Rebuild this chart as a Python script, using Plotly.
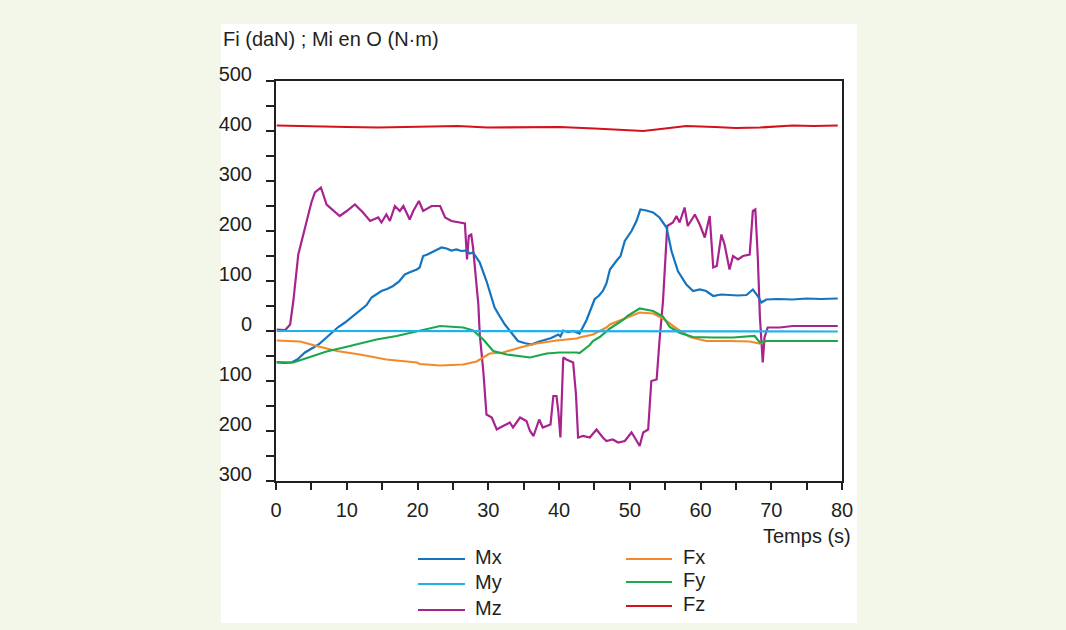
import plotly.graph_objects as go

# ---------------- data ----------------
series_names = ["Mx", "My", "Mz", "Fx", "Fy", "Fz"]
series_colors = ["#1474bf", "#1fb1ea", "#a9238f", "#f28a2a", "#1ba84c", "#d3121c"]

mx_t = [0.1, 1.2, 2.2, 3.0, 4.1, 5.0, 6.0, 6.9, 7.85, 8.8, 9.75, 10.9, 12.1, 12.8, 13.5, 14.2, 14.9,
        15.7, 16.55, 17.4, 18.2, 19.0, 19.9, 20.3, 20.8, 21.4, 22.0, 22.7, 23.4, 24.1,
        24.8, 25.5, 26.2, 26.9, 27.4, 27.85, 28.8, 29.75, 30.9, 31.6, 32.35, 33.3, 34.2, 35.1,
        36.1, 37.0, 38.0, 38.9, 39.9, 40.2, 40.6, 41.3, 42.0,
        42.9, 43.9, 45.05, 45.6, 46.2, 46.7, 47.2, 48.1, 48.7, 49.3, 50.25, 50.95, 51.5, 52.35,
        53.3, 54.2, 55.2, 55.9, 56.8, 58.0, 58.95, 59.9, 60.8, 61.8, 62.9, 64.1, 65.3, 66.5,
        67.4, 68.1, 68.6, 69.3, 71.0, 73.0, 75.0, 77.0, 79.4]
mx_v = [-63, -64, -63, -57, -43, -36, -27, -16, -3, 8, 17, 30, 43, 52, 67, 73, 80,
        84, 90, 99, 113, 118, 123, 127, 150, 153, 157, 162, 167, 165,
        161, 163, 160, 161, 155, 157, 137, 100, 47, 30, 13, -4, -20, -24,
        -27, -22, -17, -14, -7, -11, 1, -2, 0,
        -5, 22, 64, 70, 80, 95, 123, 140, 150, 180, 200, 220, 243, 241,
        237, 227, 207, 160, 120, 93, 80, 83, 80, 70, 73, 72, 71, 72,
        83, 70, 57, 63, 64, 63, 65, 64, 65]

my_t = [0.1, 20.0, 40.0, 60.0, 79.4]
my_v = [0, 0, -1, -1, -1]

mz_t = [0.1, 1.3, 2.0, 2.45, 3.15, 4.3, 5.0, 5.5, 6.35, 7.15, 7.9, 9.0, 10.0, 11.15, 12.3, 13.3,
        14.45, 14.9, 15.6, 16.1, 16.8, 17.5, 18.0, 18.9, 19.4, 20.2, 20.8, 22.0, 23.2, 23.9,
        24.8, 26.7, 27.0, 27.25, 27.6, 27.85, 28.6, 28.8, 29.3, 29.75, 30.5, 31.2, 32.1, 33.05,
        33.5, 34.5, 35.4, 35.9, 36.4, 37.2, 37.7, 38.8, 39.2, 39.65, 39.9, 40.2, 40.6, 41.05,
        42.0, 42.4, 42.7, 43.4, 44.35, 45.3, 46.2, 46.7, 47.6, 48.35, 49.3, 50.25, 50.7, 51.4,
        51.9, 52.6, 53.05, 53.8, 54.2, 54.7, 55.3, 56.1, 56.6, 57.05, 57.75, 58.2, 59.2, 59.9,
        60.6, 61.3, 61.8, 62.3, 62.95, 63.4, 64.1, 64.6, 65.3, 66.0, 66.95, 67.4, 67.75, 68.1,
        68.4, 68.8, 69.05, 69.5, 71.2, 73.05, 75.9, 79.4]
mz_v = [3, 2, 13, 60, 153, 217, 257, 277, 287, 253, 244, 230, 240, 253, 237, 220,
        227, 217, 233, 220, 250, 240, 250, 223, 240, 260, 240, 250, 250, 227,
        220, 215, 143, 190, 193, 167, 53, -7, -80, -167, -173, -197, -190, -183,
        -193, -173, -180, -200, -210, -177, -193, -187, -130, -130, -160, -213, -53, -57,
        -63, -127, -213, -210, -213, -197, -213, -220, -217, -223, -220, -203, -213, -230,
        -203, -197, -100, -97, -20, 60, 210, 217, 230, 217, 247, 210, 233, 213,
        187, 230, 127, 130, 193, 173, 123, 150, 143, 150, 153, 240, 243, 147,
        27, -63, -13, 7, 7, 10, 10, 10]

fx_t = [0.1, 3.4, 5.75, 8.6, 11.85, 15.6, 19.9, 20.3, 23.2, 26.45, 28.35, 29.75, 30.2, 32.1, 34.5,
        36.8, 39.65, 42.5, 42.9, 44.8, 46.7, 47.2, 49.15, 49.65, 51.4, 53.3, 54.7, 56.6, 58.5,
        60.8, 64.1, 66.95, 68.4, 69.3, 79.4]
fx_v = [-19, -21, -30, -40, -47, -57, -63, -66, -69, -67, -61, -50, -45, -43, -33,
        -25, -19, -15, -13, -7, 7, 13, 23, 27, 37, 35, 25, 5, -12,
        -20, -20, -21, -25, -20, -20]

fy_t = [0.1, 2.45, 4.8, 7.15, 10.45, 14.2, 17.05, 19.9, 23.2, 26.45, 27.85, 29.3, 30.7, 32.6,
        35.9, 38.25, 40.1, 42.5, 42.9, 44.35, 44.8, 45.75, 47.2, 49.15, 49.65, 51.4, 53.3, 54.7,
        55.65, 57.1, 58.95, 61.8, 64.6, 67.65, 68.4, 69.3, 79.4]
fy_v = [-62, -63, -52, -41, -30, -17, -10, -1, 10, 7, 1, -17, -40, -47,
        -53, -45, -43, -43, -44, -28, -20, -12, 5, 23, 30, 45, 40, 29,
        8, -4, -12, -13, -13, -10, -23, -20, -20]

fz_t = [0.1, 5.0, 10.0, 14.4, 20.0, 25.7, 29.9, 35.0, 40.1, 45.0, 48.5, 51.9, 55.0, 58.0,
        62.0, 65.0, 68.4, 71.0, 73.05, 76.0, 79.4]
fz_v = [411, 409, 408, 407, 408, 410, 407, 407, 408, 405, 403, 400, 405, 410,
        408, 406, 407, 409, 411, 410, 411]

y_tick_vals = [-300, -200, -100, 0, 100, 200, 300, 400, 500]
y_tick_text = ["300", "200", "100", "0", "100", "200", "300", "400", "500"]
x_tick_vals = [0, 10, 20, 30, 40, 50, 60, 70, 80]

y_title = "Fi (daN) ; Mi en O (N·m)"
x_title = "Temps (s)"

# ---------------- figure ----------------
FONT = "Liberation Sans, Arial, Helvetica, sans-serif"
FS = 20
TXT = "#231f20"
W, H = 1066, 630
L, R, T, B = 276, 224, 81, 149
PW, PH = W - L - R, H - T - B


def px_x(p):
    return (p - L) / PW


def px_y(p):
    return (H - B - p) / PH


data_t = [mx_t, my_t, mz_t, fx_t, fy_t, fz_t]
data_v = [mx_v, my_v, mz_v, fx_v, fy_v, fz_v]
draw_order = [5, 2, 0, 3, 4, 1]

fig = go.Figure()
for i in draw_order:
    fig.add_trace(go.Scatter(x=data_t[i], y=data_v[i], mode="lines", name=series_names[i],
                             line=dict(color=series_colors[i], width=2.2), showlegend=False))

shapes = [dict(type="rect", xref="paper", yref="paper",
               x0=px_x(221), x1=px_x(857), y0=px_y(623), y1=px_y(24),
               fillcolor="white", line=dict(width=0), layer="below")]
annotations = [
    dict(text=y_title, xref="paper", yref="paper", x=px_x(221), y=px_y(39),
         xanchor="left", yanchor="middle", showarrow=False,
         font=dict(family=FONT, size=FS, color=TXT)),
    dict(text=x_title, xref="paper", yref="paper", x=px_x(853), y=px_y(536),
         xanchor="right", yanchor="middle", showarrow=False,
         font=dict(family=FONT, size=FS, color=TXT)),
]

# manual legend (two columns of three)
leg_cols = [(418, 465, 473), (626, 672, 681)]
leg_rows = [559, 584, 610]
for k, i in enumerate([0, 1, 2, 3, 4, 5]):
    col = k // 3
    row = k % 3
    x0, x1, xt = leg_cols[col]
    yy = leg_rows[row] - (2 * row if col == 1 else 0)
    shapes.append(dict(type="line", xref="paper", yref="paper",
                       x0=px_x(x0), x1=px_x(x1), y0=px_y(yy), y1=px_y(yy),
                       line=dict(color=series_colors[i], width=2)))
    annotations.append(dict(text=series_names[i], xref="paper", yref="paper",
                            x=px_x(xt), y=px_y(yy - 2), xanchor="left", yanchor="middle",
                            showarrow=False, font=dict(family=FONT, size=FS, color=TXT)))

fig.update_layout(
    width=W, height=H,
    margin=dict(l=L, r=R, t=T, b=B, pad=0),
    paper_bgcolor="#f3f7e9",
    plot_bgcolor="white",
    font=dict(family=FONT, size=FS, color=TXT),
    showlegend=False,
    shapes=shapes,
    annotations=annotations,
    xaxis=dict(range=[0, 80], tickvals=x_tick_vals, ticks="outside", ticklen=7,
               tickwidth=1.5, tickcolor=TXT, showline=True, linecolor=TXT,
               linewidth=2, mirror=True, showgrid=False, zeroline=False,
               minor=dict(dtick=5, ticks="outside", ticklen=7, tickwidth=1.5, tickcolor=TXT),
               tickfont=dict(family=FONT, size=FS, color=TXT), ticklabelstandoff=3),
    yaxis=dict(range=[-300, 500], tickvals=y_tick_vals, ticktext=y_tick_text, ticks="outside",
               ticklen=8, tickwidth=1.5, tickcolor=TXT, showline=True,
               linecolor=TXT, linewidth=2, mirror=True, showgrid=False, zeroline=False,
               minor=dict(dtick=50, ticks="outside", ticklen=8, tickwidth=1.5, tickcolor=TXT),
               tickfont=dict(family=FONT, size=FS, color=TXT),
               ticklabelstandoff=10, ticklabelshift=-7),
)

fig.write_html("out.html", config={"displayModeBar": False},
               post_script="document.body.style.margin='0';document.body.style.background='#f3f7e9';")
